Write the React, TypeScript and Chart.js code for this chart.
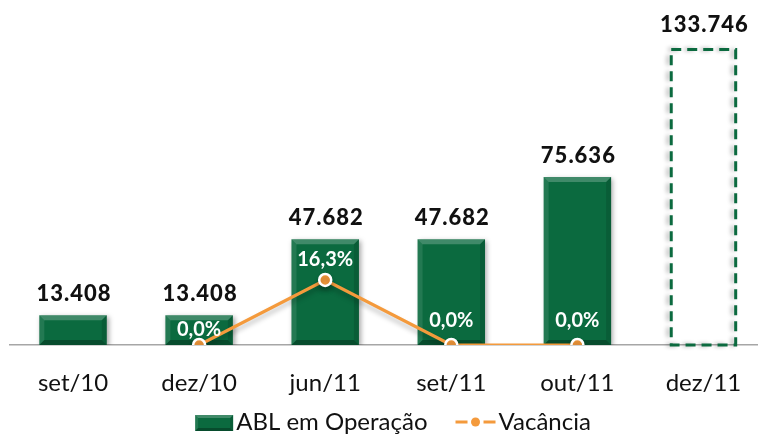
import React, { useEffect, useRef } from 'react';
import { Chart, registerables } from 'chart.js';

Chart.register(...registerables);

// ---- data ----
const categories = ['set/10', 'dez/10', 'jun/11', 'set/11', 'out/11', 'dez/11'];
const ablValues = [13408, 13408, 47682, 47682, 75636, 133746];
const vacancyValues: (number | null)[] = [null, 0, 16.3, 0, 0, null];
const projectedBars = [false, false, false, false, false, true];
const seriesLabels = ['ABL em Operação', 'Vacância'];

// ---- styles ----
const GREEN = '#0b6a3f';
const ORANGE = '#f49a3c';
const FONT = 'Lato, "Open Sans", sans-serif';
const pctLabelLift = [0, 15, 20, 24, 24, 0];

const fmtThousands = (v: number) => String(v).replace(/\B(?=(\d{3})+(?!\d))/g, '.');
const fmtPct = (v: number) => v.toFixed(1).replace('.', ',') + '%';

function drawBevelBox(ctx: CanvasRenderingContext2D, x0: number, y0: number, x1: number, y1: number, b: number) {
  ctx.save();
  const poly = (pts: number[][], color: string) => {
    ctx.beginPath();
    ctx.moveTo(pts[0][0], pts[0][1]);
    for (let i = 1; i < pts.length; i++) ctx.lineTo(pts[i][0], pts[i][1]);
    ctx.closePath();
    ctx.fillStyle = color;
    ctx.fill();
  };
  poly([[x0, y0], [x1, y0], [x1 - b, y0 + b], [x0 + b, y0 + b]], 'rgba(255,255,255,0.22)');
  poly([[x0, y0], [x0 + b, y0 + b], [x0 + b, y1 - b], [x0, y1]], 'rgba(255,255,255,0.10)');
  poly([[x1, y0], [x1, y1], [x1 - b, y1 - b], [x1 - b, y0 + b]], 'rgba(0,0,0,0.12)');
  poly([[x0, y1], [x0 + b, y1 - b], [x1 - b, y1 - b], [x1, y1]], 'rgba(0,0,0,0.28)');
  ctx.restore();
}

const decorPlugin = {
  id: 'decor',
  beforeDatasetDraw(chart: any, args: any) {
    const ctx = chart.ctx;
    ctx.save();
    if (args.index === 0) {
      ctx.shadowColor = 'rgba(0,0,0,0.35)';
      ctx.shadowBlur = 5;
      ctx.shadowOffsetX = 2;
      ctx.shadowOffsetY = 2;
    } else {
      ctx.shadowColor = 'rgba(0,0,0,0.25)';
      ctx.shadowBlur = 5;
      ctx.shadowOffsetX = 0;
      ctx.shadowOffsetY = 4;
    }
  },
  afterDatasetDraw(chart: any, args: any) {
    const ctx = chart.ctx;
    ctx.restore();
    if (args.index !== 0) return;
    const meta = chart.getDatasetMeta(0);
    meta.data.forEach((el: any, i: number) => {
      const { x, y, base, width } = el.getProps(['x', 'y', 'base', 'width'], true);
      const x0 = x - width / 2;
      const x1 = x + width / 2;
      if (projectedBars[i]) {
        ctx.save();
        ctx.shadowColor = 'rgba(0,0,0,0.3)';
        ctx.shadowBlur = 4;
        ctx.shadowOffsetX = -3;
        ctx.shadowOffsetY = 0;
        ctx.setLineDash([10, 6]);
        ctx.lineWidth = 3;
        ctx.strokeStyle = GREEN;
        ctx.strokeRect(x0 + 1.5, y + 1.5, width - 3, base - y - 1.5);
        ctx.restore();
      } else {
        drawBevelBox(ctx, x0, y, x1, base, 5);
      }
    });
  },
  afterDatasetsDraw(chart: any) {
    const ctx = chart.ctx;
    const barMeta = chart.getDatasetMeta(0);
    ctx.save();
    ctx.font = `900 22px ${FONT}`;
    (ctx as any).letterSpacing = '1px';
    ctx.fillStyle = '#111';
    ctx.textAlign = 'center';
    ctx.textBaseline = 'alphabetic';
    barMeta.data.forEach((el: any, i: number) => {
      const { x, y } = el.getProps(['x', 'y'], true);
      ctx.fillText(fmtThousands(ablValues[i]), x + 1, y - (projectedBars[i] ? 16 : 14));
    });
    ctx.restore();

    const lineMeta = chart.getDatasetMeta(1);
    ctx.save();
    ctx.font = `bold 20px ${FONT}`;
    ctx.fillStyle = '#ffffff';
    ctx.textAlign = 'center';
    ctx.textBaseline = 'middle';
    lineMeta.data.forEach((el: any, i: number) => {
      const v = vacancyValues[i];
      if (v === null || v === undefined) return;
      const { x, y } = el.getProps(['x', 'y'], true);
      ctx.fillText(fmtPct(v), x, y - pctLabelLift[i]);
    });
    ctx.restore();
  },
  afterDraw(chart: any) {
    const ctx = chart.ctx;
    ctx.save();
    ctx.font = `24px ${FONT}`;
    ctx.textBaseline = 'middle';
    ctx.textAlign = 'left';
    const cy = 422;
    const boxW = 38, boxH = 16, gap1 = 3, itemGap = 28, markW = 40, gap2 = 3;
    const w1 = ctx.measureText(seriesLabels[0]).width;
    const w2 = ctx.measureText(seriesLabels[1]).width;
    const total = boxW + gap1 + w1 + itemGap + markW + gap2 + w2;
    const center = 393;
    let x = center - total / 2;
    ctx.fillStyle = GREEN;
    ctx.fillRect(x, cy - boxH / 2 + 1, boxW, boxH);
    drawBevelBox(ctx, x, cy - boxH / 2 + 1, x + boxW, cy + boxH / 2 + 1, 3);
    x += boxW + gap1;
    ctx.fillStyle = '#111';
    ctx.fillText(seriesLabels[0], x, cy);
    x += w1 + itemGap;
    ctx.strokeStyle = ORANGE;
    ctx.lineWidth = 3;
    ctx.beginPath();
    ctx.moveTo(x, cy);
    ctx.lineTo(x + 12, cy);
    ctx.moveTo(x + markW - 12, cy);
    ctx.lineTo(x + markW, cy);
    ctx.stroke();
    ctx.fillStyle = ORANGE;
    ctx.beginPath();
    ctx.arc(x + markW / 2, cy, 4.5, 0, Math.PI * 2);
    ctx.fill();
    x += markW + gap2;
    ctx.fillStyle = '#111';
    ctx.fillText(seriesLabels[1], x, cy);
    ctx.restore();
  },
};

export default function App() {
  const ref = useRef<HTMLCanvasElement | null>(null);
  useEffect(() => {
    document.body.style.margin = '0';
    document.body.style.overflow = 'hidden';
    const canvas = ref.current!;
    const chart = new Chart(canvas, {
      type: 'bar',
      data: {
        labels: categories,
        datasets: [
          {
            type: 'bar',
            label: seriesLabels[0],
            data: ablValues,
            backgroundColor: ablValues.map((_, i) => (projectedBars[i] ? 'rgba(0,0,0,0)' : GREEN)),
            borderWidth: 0,
            categoryPercentage: 1,
            barPercentage: 0.535,
            yAxisID: 'y',
            order: 1,
          },
          {
            type: 'line',
            label: seriesLabels[1],
            data: vacancyValues,
            borderColor: ORANGE,
            borderWidth: 3.2,
            pointRadius: 6,
            pointBackgroundColor: ORANGE,
            pointBorderColor: '#ffffff',
            pointBorderWidth: 2.5,
            tension: 0,
            spanGaps: false,
            yAxisID: 'y1',
            order: 0,
          } as any,
        ],
      },
      options: {
        responsive: false,
        animation: false,
        layout: { padding: { left: 10, right: 3, top: 12, bottom: 14 } },
        plugins: {
          legend: { display: false },
          tooltip: { enabled: false },
        },
        scales: {
          x: {
            offset: true,
            grid: { display: false, drawTicks: false },
            border: { display: true, color: '#a6a6a6', width: 1.5 },
            ticks: { color: '#111', font: { family: FONT, size: 24 }, padding: 23.6 },
          },
          y: { display: false, min: 0, max: 150000 },
          y1: { display: false, min: 0, max: 83.5 },
        },
      },
      plugins: [decorPlugin],
    });
    return () => chart.destroy();
  }, []);
  return (
    <div style={{ width: 758, height: 435, overflow: 'hidden', background: '#fff' }}>
      <canvas ref={ref} width={775} height={435} style={{ display: 'block' }} />
    </div>
  );
}
